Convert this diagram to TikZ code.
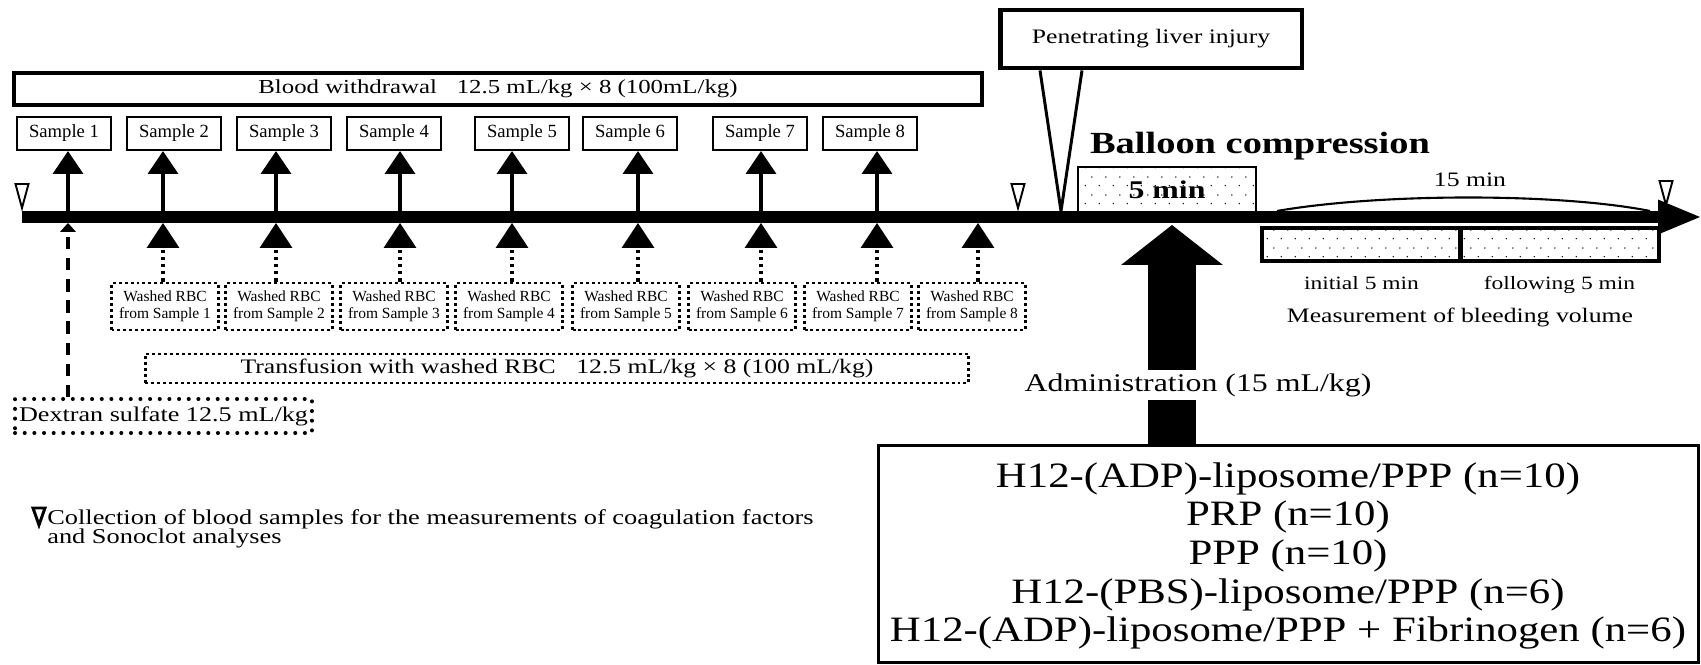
\documentclass[tikz,border=0pt]{standalone}
\usepackage{fontspec}
\setmainfont{Liberation Serif}
\newfontfamily\wideserif{Liberation Serif}[FakeStretch=1.25]
\newfontfamily\midserif{Liberation Serif}[FakeStretch=1.2]
\usetikzlibrary{positioning,arrows.meta,patterns.meta}
\newcommand{\tightlines}{\lineskiplimit=-20pt\relax}

\tikzdeclarepattern{
  name=sparsedots,
  type=uncolored,
  bottom left={(0pt,0pt)},
  top right={(8pt,10pt)},
  tile size={(8pt,10pt)},
  code={
    \fill (2pt,2.5pt) circle [radius=0.45pt];
    \fill (6pt,7.5pt) circle [radius=0.45pt];
  }
}

\begin{document}
\begin{tikzpicture}[x=0.02cm, y=-0.02cm,
    samplebox/.style={draw, line width=1.3pt, minimum width=1.88cm, minimum height=0.66cm, inner sep=0pt, font=\fontsize{10.6}{12}\selectfont},
    rbcbox/.style={draw, line width=1.7pt, dash pattern=on 1.7pt off 1.7pt, minimum width=2.14cm, minimum height=0.94cm, inner sep=0pt, align=center, font=\fontsize{8.8}{9.6}\selectfont},
    titlebox/.style={draw, line width=2.2pt, minimum width=19.36cm, minimum height=0.64cm, inner sep=0pt, font=\wideserif\fontsize{11.3}{13}\selectfont},
    transbox/.style={draw, line width=1.7pt, dash pattern=on 1.7pt off 1.7pt, minimum width=16.48cm, minimum height=0.58cm, inner sep=0pt, font=\wideserif\fontsize{11.7}{13}\selectfont},
    dextranbox/.style={draw, line width=2.3pt, line cap=round, dash pattern=on 0pt off 5.5pt, minimum width=5.94cm, minimum height=0.68cm, inner sep=0pt, font=\wideserif\fontsize{11.9}{13}\selectfont},
    penbox/.style={draw, line width=2.8pt, fill=white, minimum width=6.04cm, minimum height=1.16cm, inner sep=0pt, font=\wideserif\fontsize{11.7}{13}\selectfont},
    dotbox/.style={draw, pattern=sparsedots, inner sep=0pt},
    measbox/.style={dotbox, line width=2.2pt, minimum width=3.98cm, minimum height=0.66cm},
    smalllabel/.style={inner sep=0pt, font=\wideserif\fontsize{10.7}{12}\selectfont},
    midlabel/.style={inner sep=0pt, font=\wideserif\fontsize{11.7}{13}\selectfont},
    timeline/.style={line width=6.8pt, -{Triangle[length=23.8pt, width=19.8pt, line width=0pt]}},
    uparrow/.style={line width=2pt, -{Triangle[length=13pt, width=17.6pt, line width=0pt]}},
    rbcarrow/.style={line width=2.3pt, dash pattern=on 2pt off 2pt, -{Triangle[length=14.2pt, width=18.7pt, line width=0pt]}},
    dextranline/.style={line width=2.6pt, dash pattern=on 7pt off 5pt, -{Triangle[length=5pt, width=9pt, line width=0pt]}},
    bigarrow/.style={line width=27.8pt, -{Triangle[length=22.7pt, width=57.8pt, line width=0pt]}},
    marker/.style={draw, fill=white, line width=1.1pt, line join=miter}
    ]
        \useasboundingbox (0,0) rectangle (1701,665);

        %Time axis
        \coordinate (start) at (22,217);
        \coordinate (end)   at (1700,217);
        \draw[timeline] (start) -- (end);
        \foreach \x [count=\i] in {68,163,276,400,512,638,761,877,978} {
            \coordinate (t\i) at (\x,211);
            \coordinate (b\i) at (\x,223);
        }

        %Nodes
        \node[titlebox] (withdraw) at (498,89)
            {Blood withdrawal\quad 12.5 mL/kg × 8 (100mL/kg)};
        \foreach \x [count=\i] in {64,174,284,394,522,630,760,870}
            \node[samplebox] (s\i) at (\x,133.5) {Sample \i};
        \foreach \x [count=\i] in {165,279,394,509,626,742,858,972}
            \node[rbcbox] (w\i) at (\x,306.5) {Washed RBC\\from Sample \i};
        \node[transbox] (transfuse) at (557,368.5)
            {Transfusion with washed RBC\quad 12.5 mL/kg × 8 (100 mL/kg)};
        \node[dextranbox] (dextran) at (163.5,416) {Dextran sulfate 12.5 mL/kg};

        \node[penbox] (liverbox) at (1151,39) {Penetrating liver injury};
        \node[inner sep=0pt, font=\wideserif\bfseries\fontsize{17.5}{20}\selectfont]
            (balloon) at (1260,146) {Balloon compression};
        \node[dotbox, line width=0.9pt, minimum width=3.56cm, minimum height=0.9cm,
            font=\wideserif\bfseries\fontsize{14.5}{16}\selectfont]
            (compress) at (1167,189.5) {5 min};
        \node[midlabel] (fifteen) at (1470,180) {15 min};
        \node[measbox] (early) at (1361.5,244.5) {};
        \node[measbox] (late)  at (1559.5,244.5) {};
        \node[smalllabel, anchor=base] (earlylabel) at ([yshift=-0.54cm]early.south) {initial 5 min};
        \node[smalllabel, anchor=base] (latelabel)  at ([yshift=-0.54cm]late.south) {following 5 min};
        \node[midlabel] (bleed) at (1460,317) {Measurement of bleeding volume};

        \node[draw, line width=1.7pt, minimum width=16.42cm, minimum height=4.36cm]
            (groups) at (1288.5,554) {};
        \node[align=center, inner sep=0pt,
            font=\midserif\fontsize{20.3}{22}\selectfont\tightlines]
            (grouplist) at (1288,556)
            {H12-(ADP)-liposome/PPP (n=10)\\PRP (n=10)\\PPP (n=10)\\
             H12-(PBS)-liposome/PPP (n=6)\\H12-(ADP)-liposome/PPP + Fibrinogen (n=6)};

        %Lines
        \foreach \i in {1,...,8}
            \draw[uparrow] (t\i) -- (s\i.south -| t\i);
        \foreach \i [evaluate=\i as \j using int(\i+1)] in {1,...,8}
            \draw[rbcarrow] (w\i.north -| b\j) -- (b\j);
        \draw[dextranline] (dextran.north -| b1) -- (b1);

        \coordinate (liver) at (1061,211);
        \coordinate (pleft) at (1040,0);
        \coordinate (pright) at (1082,0);
        \draw[marker, line width=1.7pt] (liverbox.south -| pleft) -- (liver) -- (liverbox.south -| pright);

        \coordinate (adm) at (1172,225);
        \draw[bigarrow] (groups.north -| adm) -- (adm);
        \node[fill=white, inner sep=2pt, font=\wideserif\fontsize{14.5}{16}\selectfont]
            (admin) at (1198,385) {Administration (15 mL/kg)};

        \coordinate (fa) at (1277,211);
        \coordinate (fb) at (1650,211);
        \draw[line width=1.2pt] (fa) .. controls (1380,193) and (1560,193) .. (fb);

        %Sampling marks
        \foreach \x/\y in {22/208,1018/208,1666/205}
            \draw[marker] (\x-6.5,\y-24) -- (\x+6.5,\y-24) -- (\x,\y) -- cycle;

        %Legend
        \draw[marker, line width=1.7pt] (33,508) -- (45,508) -- (39,525) -- cycle;
        \node[anchor=west, align=left, inner sep=0pt,
            font=\wideserif\fontsize{12}{10.8}\selectfont\tightlines]
            (legend) at (47,529)
            {Collection of blood samples for the measurements of coagulation factors\\and Sonoclot analyses};
    \end{tikzpicture}
\end{document}
